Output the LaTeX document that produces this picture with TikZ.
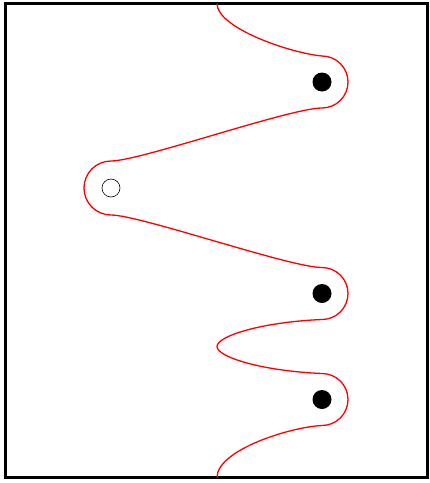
\documentclass[tikz,border=0pt]{standalone}
\begin{document}
\begin{tikzpicture}[x=1pt,y=-1pt,
  frame/.style={draw=black,line width=2.6pt},
  wire/.style={draw=red,line width=1.3pt},
  fulldot/.style={circle,fill=black,inner sep=0pt,minimum size=19pt},
  opendot/.style={circle,draw=black,line width=0.6pt,fill=white,inner sep=0pt,minimum size=18pt}]
\useasboundingbox (0,0) rectangle (430,483);
\draw[frame] (5.5,3.5) rectangle (427.5,477.5);
\draw[wire] (217,3.5) .. controls (217,28) and (290,53) .. (322,56)
  arc (-90:90:26)
  .. controls (290,108) and (140,161) .. (111,161)
  arc (-90:-270:27)
  .. controls (140,215) and (290,267.5) .. (322,267.5)
  arc (-90:90:26)
  .. controls (262,322) and (217,336) .. (217,346.5)
  .. controls (217,357) and (262,371) .. (322,373.5)
  arc (-90:90:26)
  .. controls (290,427) and (217,450) .. (217,477.5);
\node[fulldot] (d1) at (322,82) {};
\node[fulldot] (d2) at (322,293.5) {};
\node[fulldot] (d3) at (322,399.5) {};
\node[opendot] (o1) at (111,188) {};
\end{tikzpicture}
\end{document}
